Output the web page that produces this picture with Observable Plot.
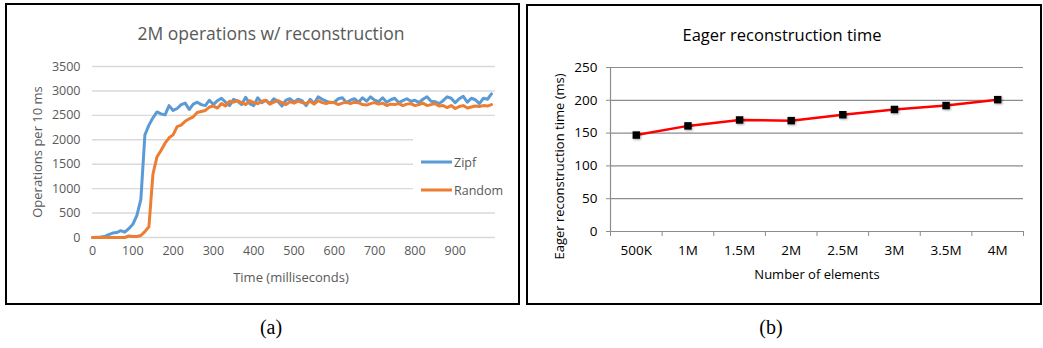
<!DOCTYPE html>
<html><head><meta charset="utf-8">
<script src="https://cdn.jsdelivr.net/npm/d3@7"></script>
<script src="https://cdn.jsdelivr.net/npm/@observablehq/plot@0.6"></script>
<style>
html,body{margin:0;padding:0;background:#fff;}
#root{position:relative;width:1043px;height:348px;overflow:hidden;font-family:"Open Sans",sans-serif;}
.box{position:absolute;border:2px solid #000;box-sizing:border-box;}
.title{position:absolute;white-space:nowrap;transform:translate(-50%,-50%);}
.cap{position:absolute;font-family:"Liberation Serif",serif;font-size:20px;transform:translate(-50%,-50%);color:#000;}
.plot{position:absolute;}
.legend{position:absolute;background:#fff;font-size:12.5px;color:#595959;}
.legend .row{position:absolute;left:0;display:flex;align-items:center;white-space:nowrap;}
.legend .sw{display:inline-block;width:31px;height:3px;margin-right:2px;}
</style></head>
<body><div id="root"></div>
<script>
// ---------- Panel (a) data ----------
const timesMs = [0,10,20,30,40,50,60,70,80,90,100,110,120,130,140,150,160,170,180,190,
  200,210,220,230,240,250,260,270,280,290,300,310,320,330,340,350,360,370,380,390,
  400,410,420,430,440,450,460,470,480,490,500,510,520,530,540,550,560,570,580,590,
  600,610,620,630,640,650,660,670,680,690,700,710,720,730,740,750,760,770,780,790,
  800,810,820,830,840,850,860,870,880,890,900,910,920,930,940,950,960,970,980,990];
const zipfOps = [0,5,10,20,60,90,100,140,110,180,270,450,780,2100,2300,2450,2570,2530,2510,2700,
  2600,2640,2720,2750,2620,2730,2770,2720,2700,2810,2720,2800,2850,2770,2700,2830,2790,2720,2870,2740,
  2700,2860,2760,2810,2740,2840,2790,2690,2810,2840,2770,2830,2800,2700,2830,2740,2880,2830,2790,2760,
  2770,2840,2860,2760,2810,2840,2770,2860,2790,2880,2810,2780,2860,2770,2820,2850,2760,2800,2840,2790,
  2810,2760,2830,2880,2790,2780,2740,2800,2880,2850,2760,2840,2890,2770,2850,2820,2740,2850,2830,2940];
const randomOps = [0,0,0,0,0,0,0,0,0,30,20,20,40,120,220,1300,1650,1780,1930,2040,
  2100,2270,2300,2380,2430,2470,2560,2580,2600,2670,2690,2650,2740,2690,2790,2770,2800,2760,2720,2800,
  2760,2740,2790,2810,2730,2770,2800,2760,2720,2780,2750,2790,2760,2740,2790,2730,2800,2760,2740,2770,
  2760,2720,2750,2770,2740,2770,2760,2720,2710,2740,2760,2730,2750,2700,2730,2720,2740,2700,2730,2740,
  2700,2720,2750,2700,2720,2740,2690,2700,2660,2700,2640,2680,2700,2650,2670,2690,2680,2700,2690,2720];
const seriesNames = ["Zipf", "Random"];
const seriesColors = ["#5B9BD5", "#ED7D31"];
const yTicksA = [0,500,1000,1500,2000,2500,3000,3500];
const xTicksA = [0,100,200,300,400,500,600,700,800,900];

// ---------- Panel (b) data ----------
const elementLabels = ["500K","1M","1.5M","2M","2.5M","3M","3.5M","4M"];
const eagerTimeMs = [147,161,170,169,178,186,192,201];
const yTicksB = [0,50,100,150,200,250];

const root = document.getElementById("root");
function div(cls, css, html){const d=document.createElement("div");d.className=cls;Object.assign(d.style,css);if(html!=null)d.innerHTML=html;root.appendChild(d);return d;}

// borders
div("box",{left:"5px",top:"3px",width:"515px",height:"302px"});
div("box",{left:"526px",top:"4px",width:"516px",height:"301px"});

// ---------- Plot (a) ----------
const rowsA = [];
seriesNames.forEach((s, k) => {
  const vals = k === 0 ? zipfOps : randomOps;
  timesMs.forEach((t, i) => rowsA.push({t, v: vals[i], s}));
});
const plotA = Plot.plot({
  width: 521, height: 306,
  marginLeft: 92, marginRight: 26, marginTop: 66, marginBottom: 69,
  style: {fontFamily: "Open Sans", fontSize: "12.5px", color: "#595959", background: "transparent", overflow: "visible"},
  x: {domain: [0, 1000]},
  y: {domain: [0, 3500]},
  color: {domain: seriesNames, range: seriesColors},
  marks: [
    Plot.ruleY(yTicksA, {stroke: "#d9d9d9", strokeWidth: 1.4}),
    Plot.axisY({ticks: yTicksA, tickSize: 0, tickPadding: 12, tickFormat: d3.format("d"), label: null}),
    Plot.axisX({ticks: xTicksA, tickSize: 0, tickPadding: 9, tickFormat: d3.format("d"), label: null}),
    Plot.line(rowsA, {x: "t", y: "v", z: "s", stroke: "s", strokeWidth: 3, strokeLinejoin: "round"}),
    Plot.text(["Operations per 10 ms"], {frameAnchor: "left", dx: -55, rotate: -90, fontSize: 13, textAnchor: "middle", lineAnchor: "middle"}),
    Plot.text(["Time (milliseconds)"], {frameAnchor: "bottom", dx: -3, dy: 44, fontSize: 13, textAnchor: "middle"})
  ]
});
const wa = div("plot", {left: "0px", top: "0px"});
wa.appendChild(plotA);

div("title", {left: "271px", top: "33px", fontSize: "17.5px", color: "#595959"}, "2M operations w/ reconstruction");
const leg = div("legend", {left: "413px", top: "125px", width: "100px", height: "76px"});
seriesNames.forEach((s, k) => {
  const r = document.createElement("div");
  r.className = "row";
  r.style.top = (k === 0 ? 37 : 65) + "px";
  r.style.transform = "translateY(-50%)";
  r.innerHTML = `<span class="sw" style="background:${seriesColors[k]};margin-left:8px"></span><span>${s}</span>`;
  leg.appendChild(r);
});

// ---------- Plot (b) ----------
const posB = elementLabels.map((_, i) => i + 1);
const rowsB = elementLabels.map((e, i) => ({pos: i + 1, label: e, v: eagerTimeMs[i]}));
const bounds = d3.range(0.5, elementLabels.length + 1, 1);
const plotB = Plot.plot({
  width: 522, height: 306,
  marginLeft: 89, marginRight: 20, marginTop: 67, marginBottom: 75,
  style: {fontFamily: "Open Sans", fontSize: "13.5px", color: "#000", background: "transparent", overflow: "visible"},
  x: {domain: [0.5, elementLabels.length + 0.5]},
  y: {domain: [0, 250]},
  marks: [
    Plot.ruleY(yTicksB, {stroke: "#8c8c8c", strokeWidth: 1.2}),
    Plot.ruleX([0.5], {stroke: "#8c8c8c", strokeWidth: 1.2}),
    Plot.axisY({ticks: yTicksB, tickSize: 4, tickPadding: 9, stroke: "#8c8c8c", tickFormat: d3.format("d"), label: null}),
    Plot.axisX({ticks: bounds, tickSize: 5, tickPadding: 0, tickFormat: () => "", stroke: "#8c8c8c", label: null}),
    Plot.axisX({ticks: posB, tickSize: 0, tickPadding: 14, tickFormat: (p) => elementLabels[p - 1], label: null}),
    Plot.line(rowsB, {x: "pos", y: "v", stroke: "#ff0000", strokeWidth: 2.5}),
    Plot.dot(rowsB, {x: "pos", y: "v", symbol: "square", r: 4.2, fill: "#000", stroke: "none"}),
    Plot.text(["Eager reconstruction time (ms)"], {frameAnchor: "left", dx: -51, dy: 17, rotate: -90, fontSize: 13, textAnchor: "middle", lineAnchor: "middle"}),
    Plot.text(["Number of elements"], {frameAnchor: "bottom", dy: 47, fontSize: 13, textAnchor: "middle"})
  ]
});
const dg = plotB.querySelector('g[aria-label="dot"]');
if (dg) dg.style.filter = "drop-shadow(1px 1px 1px rgba(0,0,0,0.35))";
const wb = div("plot", {left: "521px", top: "0px"});
wb.appendChild(plotB);

div("title", {left: "782px", top: "34px", fontSize: "16.5px", color: "#000"}, "Eager reconstruction time");

// captions
div("cap", {left: "271px", top: "327px"}, "(a)");
div("cap", {left: "771px", top: "327px"}, "(b)");
</script>
</body></html>
